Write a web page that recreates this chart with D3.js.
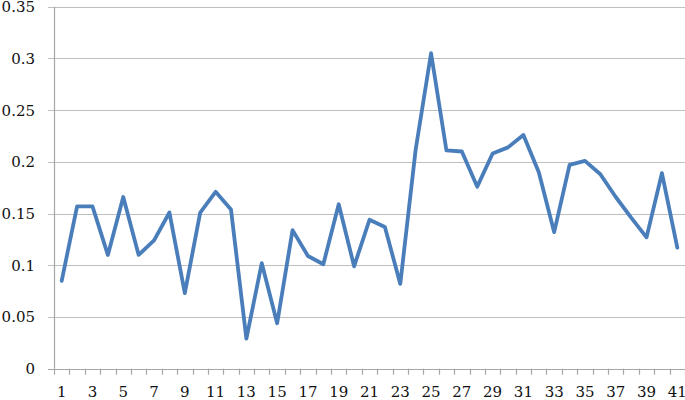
<!DOCTYPE html>
<html><head><meta charset="utf-8">
<script src="https://cdn.jsdelivr.net/npm/d3@7"></script>
<style>html,body{margin:0;padding:0;background:#fff;}svg{display:block;}</style>
</head><body>
<svg id="chart" width="685" height="400"></svg>
<script>
const categories = d3.range(1, 42).map(String);
const values = [0.085,0.157,0.157,0.110,0.166,0.110,0.124,0.151,0.073,0.151,
  0.171,0.154,0.029,0.102,0.044,0.134,0.109,0.101,0.159,0.099,
  0.144,0.137,0.082,0.212,0.305,0.211,0.210,0.176,0.208,0.214,
  0.226,0.190,0.132,0.197,0.201,0.188,0.166,0.146,0.127,0.189,0.117];
const yTicks = [0,0.05,0.1,0.15,0.2,0.25,0.3,0.35];
const xLabels = categories.filter((d,i)=>i%2===0);

(function(){
const svg = d3.select("#chart");
const mLeft = 54, mRight = 685, mTop = 6.7, mBottom = 368.7;
const x = d3.scaleBand().domain(categories).range([mLeft, mRight]);
const y = d3.scaleLinear().domain([0,0.35]).range([mBottom, mTop]);
const font = "'DejaVu Serif', serif";

svg.append("g").selectAll("line").data(yTicks).join("line")
  .attr("x1", mLeft-6).attr("x2", mRight)
  .attr("y1", d=>Math.round(y(d))+0.5).attr("y2", d=>Math.round(y(d))+0.5)
  .attr("stroke", d=> d===0 ? "#a6a6a6" : "#bfbfbf").attr("stroke-width",1.2);

svg.append("line").attr("x1",mLeft+0.5).attr("x2",mLeft+0.5)
  .attr("y1",mTop).attr("y2",mBottom).attr("stroke","#a6a6a6").attr("stroke-width",1.2);

svg.append("g").selectAll("text").data(yTicks).join("text")
  .attr("x", 35).attr("y", d=>y(d)).attr("dy","0.36em")
  .attr("text-anchor","end").attr("font-family",font).attr("font-size",15)
  .attr("fill","#111").text(d=>String(d));

const bounds = categories.map(c=>x(c)).concat([mRight]);
svg.append("g").selectAll("line").data(bounds).join("line")
  .attr("x1", d=>Math.round(d)+0.5).attr("x2", d=>Math.round(d)+0.5)
  .attr("y1", mBottom).attr("y2", mBottom+6)
  .attr("stroke","#a6a6a6").attr("stroke-width",1.2);

svg.append("g").selectAll("text").data(xLabels).join("text")
  .attr("x", d=>x(d)+x.bandwidth()/2).attr("y", 397)
  .attr("text-anchor","middle").attr("font-family",font).attr("font-size",15)
  .attr("fill","#111").text(d=>d);

const line = d3.line().x((d,i)=>x(categories[i])+x.bandwidth()/2).y(d=>y(d));
svg.append("path").datum(values).attr("d", line)
  .attr("fill","none").attr("stroke","#4a7ebb").attr("stroke-width",3.8)
  .attr("stroke-linejoin","round").attr("stroke-linecap","round");
})();
</script>
</body></html>
